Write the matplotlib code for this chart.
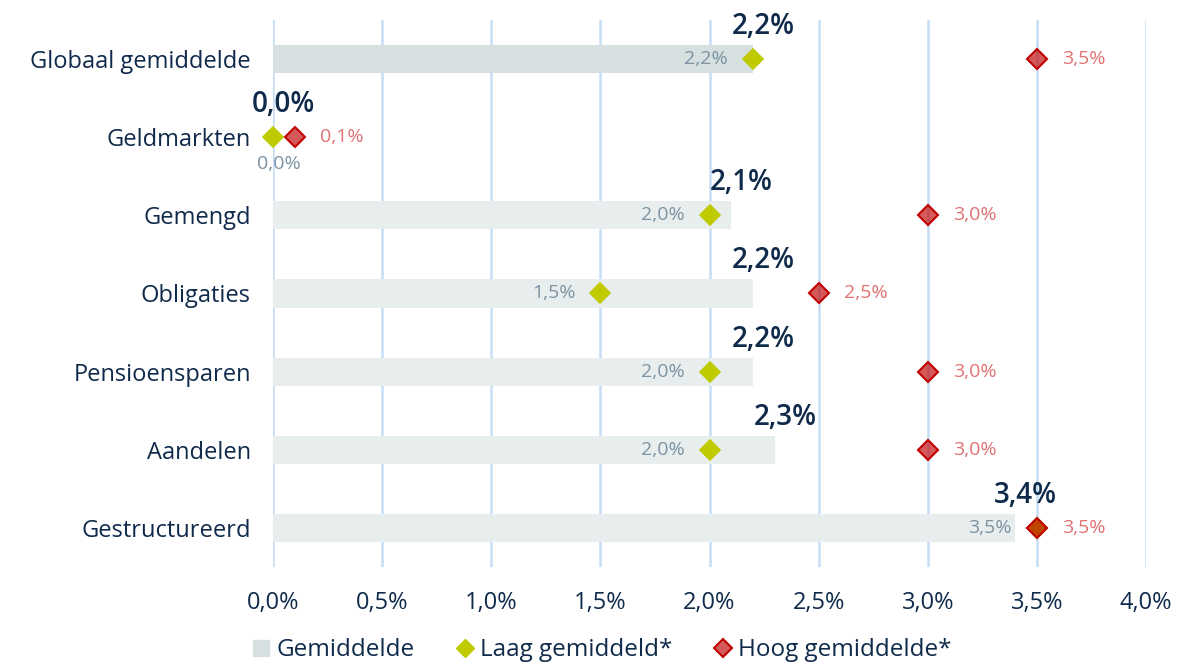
import matplotlib
matplotlib.use("Agg")
import matplotlib.pyplot as plt
from matplotlib.lines import Line2D
from matplotlib.transforms import offset_copy

categories = ["Globaal gemiddelde", "Geldmarkten", "Gemengd", "Obligaties",
              "Pensioensparen", "Aandelen", "Gestructureerd"]
gemiddelde = [2.2, 0.0, 2.1, 2.2, 2.2, 2.3, 3.4]
laag = [2.2, 0.0, 2.0, 1.5, 2.0, 2.0, 3.5]
hoog = [3.5, 0.1, 3.0, 2.5, 3.0, 3.0, 3.5]
xticks = [0.0, 0.5, 1.0, 1.5, 2.0, 2.5, 3.0, 3.5, 4.0]

NAVY = "#0f2a4a"
GRID = "#c6ddf6"
BAR_DARK = "#d6e0e1"
BAR_LIGHT = "#e8eeee"
LOW = "#bfca00"
HIGH = "#c00000"
LOW_TXT = "#7b93a3"
HIGH_TXT = "#e07272"

plt.rcParams["font.family"] = ["Open Sans", "DejaVu Sans"]


def pct(v):
    return f"{v:.1f}%".replace(".", ",")


fig = plt.figure(figsize=(11.77, 6.64), dpi=100)
ax = fig.add_axes([0.232, 0.146, 0.7417, 0.824])

y = list(range(len(categories)))
bar_cols = [BAR_DARK] + [BAR_LIGHT] * (len(categories) - 1)
ax.barh(y, gemiddelde, height=0.36, color=bar_cols, zorder=2)

for x in xticks:
    ax.axvline(x, color=GRID, lw=1.8, zorder=1)

ax.plot(laag, y, ls="none", marker="D", ms=10.5, mfc=LOW, mec=LOW, mew=1.2,
        zorder=4, clip_on=False)
ax.plot(hoog, y, ls="none", marker="D", ms=10.5, mfc=(0.753, 0, 0, 0.65),
        mec=HIGH, mew=1.5, zorder=5, clip_on=False)

for i, (g, lo, hi) in enumerate(zip(gemiddelde, laag, hoog)):
    t = offset_copy(ax.transData, fig=fig, x=10, y=18, units="dots")
    ax.text(g, i, pct(g), transform=t, ha="center", va="bottom",
            fontsize=20, fontweight="semibold", color=NAVY, zorder=6)
    if i == 1:
        t = offset_copy(ax.transData, fig=fig, x=6, y=-27, units="dots")
        ax.text(lo, i, pct(lo), transform=t, ha="center", va="center",
                fontsize=14, color=LOW_TXT, zorder=6)
    else:
        t = offset_copy(ax.transData, fig=fig, x=-25, y=0, units="dots")
        ax.text(lo, i, pct(lo), transform=t, ha="right", va="center",
                fontsize=14, color=LOW_TXT, zorder=6)
    t = offset_copy(ax.transData, fig=fig, x=25, y=0, units="dots")
    ax.text(hi, i, pct(hi), transform=t, ha="left", va="center",
            fontsize=14, color=HIGH_TXT, zorder=6)

ax.set_xlim(0, 4.0)
ax.set_ylim(len(categories) - 0.5, -0.5)
ax.set_xticks(xticks)
ax.set_xticklabels([pct(v) for v in xticks])
ax.set_yticks(y)
ax.set_yticklabels(categories)
ax.tick_params(axis="both", length=0, labelsize=17, colors=NAVY)
ax.tick_params(axis="x", pad=17)
ax.tick_params(axis="y", pad=16)
for s in ax.spines.values():
    s.set_visible(False)

handles = [
    Line2D([], [], ls="none", marker="s", ms=11, mfc=BAR_DARK, mec=BAR_DARK),
    Line2D([], [], ls="none", marker="D", ms=9, mfc=LOW, mec=LOW),
    Line2D([], [], ls="none", marker="D", ms=9, mfc=(0.753, 0, 0, 0.65), mec=HIGH, mew=1.5),
]
fig.legend(handles, ["Gemiddelde", "Laag gemiddeld*", "Hoog gemiddelde*"],
           loc="center", bbox_to_anchor=(0.51, 0.021), ncol=3, frameon=False,
           fontsize=17.5, labelcolor=NAVY, handletextpad=0.1, columnspacing=1.6,
           handlelength=1.0)

fig.savefig("out.png", dpi=100)
